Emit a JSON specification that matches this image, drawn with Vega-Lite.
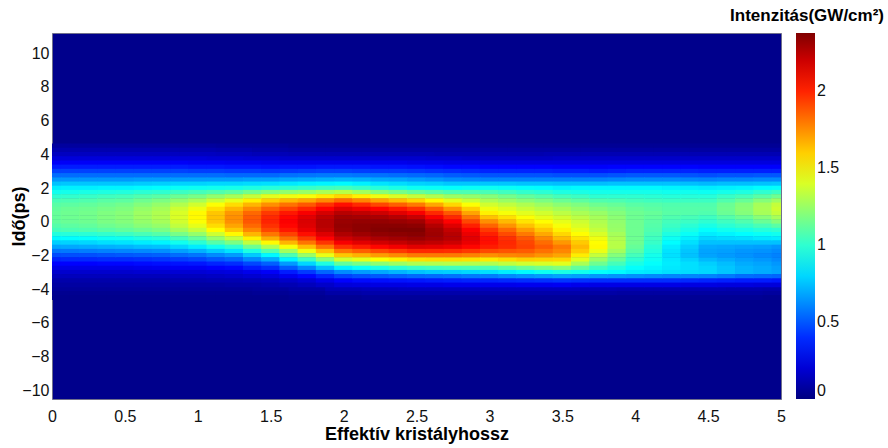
{
  "$schema": "https://vega.github.io/schema/vega-lite/v6.json",
  "width": 729,
  "height": 366,
  "autosize": {"type": "none"},
  "padding": {"left": 52, "top": 33, "right": 107, "bottom": 49},
  "background": "white",
  "config": {
    "font": "Liberation Sans",
    "view": {"fill": "#00008c", "stroke": "#70708c", "strokeWidth": 1}
  },
  "title": {
    "text": "Intenzitás(GW/cm²)",
    "anchor": "end",
    "frame": "group",
    "dx": 103,
    "dy": 17,
    "offset": 12,
    "baseline": "alphabetic",
    "fontSize": 17,
    "fontWeight": "bold",
    "color": "#000000"
  },
  "datasets": {
    "tails": [
      {"x":0,"t":4.5,"I":0.07},{"x":0,"t":4.25,"I":0.11},{"x":0,"t":4,"I":0.15},{"x":0,"t":-4,"I":0.06},{"x":0,"t":-4.25,"I":0.04},{"x":0,"t":-4.5,"I":0.03},
      {"x":0.25,"t":4.5,"I":0.07},{"x":0.25,"t":4.25,"I":0.11},{"x":0.25,"t":4,"I":0.15},{"x":0.25,"t":-4,"I":0.06},{"x":0.25,"t":-4.25,"I":0.04},{"x":0.25,"t":-4.5,"I":0.03},
      {"x":0.5,"t":4.5,"I":0.07},{"x":0.5,"t":4.25,"I":0.11},{"x":0.5,"t":4,"I":0.15},{"x":0.5,"t":-4,"I":0.06},{"x":0.5,"t":-4.25,"I":0.04},{"x":0.5,"t":-4.5,"I":0.03},
      {"x":0.75,"t":4.5,"I":0.07},{"x":0.75,"t":4.25,"I":0.11},{"x":0.75,"t":4,"I":0.15},{"x":0.75,"t":-4,"I":0.06},{"x":0.75,"t":-4.25,"I":0.04},{"x":0.75,"t":-4.5,"I":0.03},
      {"x":1,"t":4.5,"I":0.07},{"x":1,"t":4.25,"I":0.11},{"x":1,"t":4,"I":0.15},{"x":1,"t":-4,"I":0.06},{"x":1,"t":-4.25,"I":0.04},{"x":1,"t":-4.5,"I":0.03},
      {"x":1.25,"t":4.5,"I":0.06},{"x":1.25,"t":4.25,"I":0.1},{"x":1.25,"t":4,"I":0.14},{"x":1.25,"t":-4,"I":0.06},{"x":1.25,"t":-4.25,"I":0.04},{"x":1.25,"t":-4.5,"I":0.03},
      {"x":1.5,"t":4.5,"I":0.06},{"x":1.5,"t":4.25,"I":0.09},{"x":1.5,"t":4,"I":0.13},{"x":1.5,"t":-4,"I":0.07},{"x":1.5,"t":-4.25,"I":0.05},{"x":1.5,"t":-4.5,"I":0.03},
      {"x":1.75,"t":4.5,"I":0.05},{"x":1.75,"t":4.25,"I":0.08},{"x":1.75,"t":4,"I":0.12},{"x":1.75,"t":-4,"I":0.09},{"x":1.75,"t":-4.25,"I":0.06},{"x":1.75,"t":-4.5,"I":0.04},
      {"x":2,"t":4.5,"I":0.05},{"x":2,"t":4.25,"I":0.08},{"x":2,"t":4,"I":0.12},{"x":2,"t":-4,"I":0.13},{"x":2,"t":-4.25,"I":0.09},{"x":2,"t":-4.5,"I":0.05},
      {"x":2.25,"t":4.5,"I":0.05},{"x":2.25,"t":4.25,"I":0.08},{"x":2.25,"t":4,"I":0.12},{"x":2.25,"t":-4,"I":0.14},{"x":2.25,"t":-4.25,"I":0.1},{"x":2.25,"t":-4.5,"I":0.06},
      {"x":2.5,"t":4.5,"I":0.05},{"x":2.5,"t":4.25,"I":0.08},{"x":2.5,"t":4,"I":0.12},{"x":2.5,"t":-4,"I":0.15},{"x":2.5,"t":-4.25,"I":0.1},{"x":2.5,"t":-4.5,"I":0.06},
      {"x":2.75,"t":4.5,"I":0.05},{"x":2.75,"t":4.25,"I":0.08},{"x":2.75,"t":4,"I":0.11},{"x":2.75,"t":-4,"I":0.15},{"x":2.75,"t":-4.25,"I":0.1},{"x":2.75,"t":-4.5,"I":0.06},
      {"x":3,"t":4.5,"I":0.05},{"x":3,"t":4.25,"I":0.08},{"x":3,"t":4,"I":0.11},{"x":3,"t":-4,"I":0.15},{"x":3,"t":-4.25,"I":0.1},{"x":3,"t":-4.5,"I":0.06},
      {"x":3.25,"t":4.5,"I":0.05},{"x":3.25,"t":4.25,"I":0.08},{"x":3.25,"t":4,"I":0.11},{"x":3.25,"t":-4,"I":0.15},{"x":3.25,"t":-4.25,"I":0.1},{"x":3.25,"t":-4.5,"I":0.06},
      {"x":3.5,"t":4.5,"I":0.05},{"x":3.5,"t":4.25,"I":0.08},{"x":3.5,"t":4,"I":0.12},{"x":3.5,"t":-4,"I":0.15},{"x":3.5,"t":-4.25,"I":0.1},{"x":3.5,"t":-4.5,"I":0.06},
      {"x":3.75,"t":4.5,"I":0.05},{"x":3.75,"t":4.25,"I":0.08},{"x":3.75,"t":4,"I":0.12},{"x":3.75,"t":-4,"I":0.13},{"x":3.75,"t":-4.25,"I":0.09},{"x":3.75,"t":-4.5,"I":0.05},
      {"x":4,"t":4.5,"I":0.05},{"x":4,"t":4.25,"I":0.08},{"x":4,"t":4,"I":0.12},{"x":4,"t":-4,"I":0.12},{"x":4,"t":-4.25,"I":0.08},{"x":4,"t":-4.5,"I":0.05},
      {"x":4.25,"t":4.5,"I":0.05},{"x":4.25,"t":4.25,"I":0.08},{"x":4.25,"t":4,"I":0.12},{"x":4.25,"t":-4,"I":0.12},{"x":4.25,"t":-4.25,"I":0.08},{"x":4.25,"t":-4.5,"I":0.05},
      {"x":4.5,"t":4.5,"I":0.05},{"x":4.5,"t":4.25,"I":0.08},{"x":4.5,"t":4,"I":0.12},{"x":4.5,"t":-4,"I":0.12},{"x":4.5,"t":-4.25,"I":0.08},{"x":4.5,"t":-4.5,"I":0.05},
      {"x":4.75,"t":4.5,"I":0.05},{"x":4.75,"t":4.25,"I":0.08},{"x":4.75,"t":4,"I":0.12},{"x":4.75,"t":-4,"I":0.11},{"x":4.75,"t":-4.25,"I":0.08},{"x":4.75,"t":-4.5,"I":0.05},
      {"x":5,"t":4.5,"I":0.05},{"x":5,"t":4.25,"I":0.08},{"x":5,"t":4,"I":0.12},{"x":5,"t":-4,"I":0.1},{"x":5,"t":-4.25,"I":0.07},{"x":5,"t":-4.5,"I":0.04}
    ],
    "band": [
      {"x":0,"t":3.75,"I":0.21},{"x":0,"t":3.5,"I":0.28},{"x":0,"t":3.25,"I":0.36},{"x":0,"t":3,"I":0.45},{"x":0,"t":2.75,"I":0.55},{"x":0,"t":2.5,"I":0.65},{"x":0,"t":2.25,"I":0.75},{"x":0,"t":2,"I":0.85},{"x":0,"t":1.75,"I":0.93},{"x":0,"t":1.5,"I":1.0},{"x":0,"t":1.25,"I":1.06},{"x":0,"t":1,"I":1.1},{"x":0,"t":0.75,"I":1.12},{"x":0,"t":0.5,"I":1.13},{"x":0,"t":0.25,"I":1.13},{"x":0,"t":0,"I":1.12},{"x":0,"t":-0.25,"I":1.09},{"x":0,"t":-0.5,"I":1.05},{"x":0,"t":-0.75,"I":0.97},{"x":0,"t":-1,"I":0.88},{"x":0,"t":-1.25,"I":0.78},{"x":0,"t":-1.5,"I":0.68},{"x":0,"t":-1.75,"I":0.57},{"x":0,"t":-2,"I":0.47},{"x":0,"t":-2.25,"I":0.38},{"x":0,"t":-2.5,"I":0.3},{"x":0,"t":-2.75,"I":0.24},{"x":0,"t":-3,"I":0.18},{"x":0,"t":-3.25,"I":0.14},{"x":0,"t":-3.5,"I":0.1},{"x":0,"t":-3.75,"I":0.08},
      {"x":0.125,"t":3.75,"I":0.21},{"x":0.125,"t":3.5,"I":0.28},{"x":0.125,"t":3.25,"I":0.36},{"x":0.125,"t":3,"I":0.45},{"x":0.125,"t":2.75,"I":0.55},{"x":0.125,"t":2.5,"I":0.65},{"x":0.125,"t":2.25,"I":0.76},{"x":0.125,"t":2,"I":0.86},{"x":0.125,"t":1.75,"I":0.94},{"x":0.125,"t":1.5,"I":1.01},{"x":0.125,"t":1.25,"I":1.07},{"x":0.125,"t":1,"I":1.11},{"x":0.125,"t":0.75,"I":1.14},{"x":0.125,"t":0.5,"I":1.15},{"x":0.125,"t":0.25,"I":1.15},{"x":0.125,"t":0,"I":1.14},{"x":0.125,"t":-0.25,"I":1.11},{"x":0.125,"t":-0.5,"I":1.07},{"x":0.125,"t":-0.75,"I":0.98},{"x":0.125,"t":-1,"I":0.89},{"x":0.125,"t":-1.25,"I":0.79},{"x":0.125,"t":-1.5,"I":0.69},{"x":0.125,"t":-1.75,"I":0.58},{"x":0.125,"t":-2,"I":0.48},{"x":0.125,"t":-2.25,"I":0.39},{"x":0.125,"t":-2.5,"I":0.3},{"x":0.125,"t":-2.75,"I":0.24},{"x":0.125,"t":-3,"I":0.18},{"x":0.125,"t":-3.25,"I":0.14},{"x":0.125,"t":-3.5,"I":0.1},{"x":0.125,"t":-3.75,"I":0.08},
      {"x":0.25,"t":3.75,"I":0.21},{"x":0.25,"t":3.5,"I":0.28},{"x":0.25,"t":3.25,"I":0.36},{"x":0.25,"t":3,"I":0.45},{"x":0.25,"t":2.75,"I":0.55},{"x":0.25,"t":2.5,"I":0.65},{"x":0.25,"t":2.25,"I":0.76},{"x":0.25,"t":2,"I":0.86},{"x":0.25,"t":1.75,"I":0.95},{"x":0.25,"t":1.5,"I":1.02},{"x":0.25,"t":1.25,"I":1.08},{"x":0.25,"t":1,"I":1.12},{"x":0.25,"t":0.75,"I":1.15},{"x":0.25,"t":0.5,"I":1.16},{"x":0.25,"t":0.25,"I":1.16},{"x":0.25,"t":0,"I":1.15},{"x":0.25,"t":-0.25,"I":1.12},{"x":0.25,"t":-0.5,"I":1.08},{"x":0.25,"t":-0.75,"I":0.99},{"x":0.25,"t":-1,"I":0.9},{"x":0.25,"t":-1.25,"I":0.8},{"x":0.25,"t":-1.5,"I":0.7},{"x":0.25,"t":-1.75,"I":0.59},{"x":0.25,"t":-2,"I":0.48},{"x":0.25,"t":-2.25,"I":0.39},{"x":0.25,"t":-2.5,"I":0.3},{"x":0.25,"t":-2.75,"I":0.24},{"x":0.25,"t":-3,"I":0.18},{"x":0.25,"t":-3.25,"I":0.14},{"x":0.25,"t":-3.5,"I":0.1},{"x":0.25,"t":-3.75,"I":0.08},
      {"x":0.375,"t":3.75,"I":0.21},{"x":0.375,"t":3.5,"I":0.28},{"x":0.375,"t":3.25,"I":0.36},{"x":0.375,"t":3,"I":0.45},{"x":0.375,"t":2.75,"I":0.55},{"x":0.375,"t":2.5,"I":0.65},{"x":0.375,"t":2.25,"I":0.76},{"x":0.375,"t":2,"I":0.87},{"x":0.375,"t":1.75,"I":0.96},{"x":0.375,"t":1.5,"I":1.04},{"x":0.375,"t":1.25,"I":1.1},{"x":0.375,"t":1,"I":1.14},{"x":0.375,"t":0.75,"I":1.17},{"x":0.375,"t":0.5,"I":1.19},{"x":0.375,"t":0.25,"I":1.19},{"x":0.375,"t":0,"I":1.18},{"x":0.375,"t":-0.25,"I":1.15},{"x":0.375,"t":-0.5,"I":1.1},{"x":0.375,"t":-0.75,"I":1.01},{"x":0.375,"t":-1,"I":0.92},{"x":0.375,"t":-1.25,"I":0.82},{"x":0.375,"t":-1.5,"I":0.71},{"x":0.375,"t":-1.75,"I":0.6},{"x":0.375,"t":-2,"I":0.49},{"x":0.375,"t":-2.25,"I":0.4},{"x":0.375,"t":-2.5,"I":0.31},{"x":0.375,"t":-2.75,"I":0.24},{"x":0.375,"t":-3,"I":0.18},{"x":0.375,"t":-3.25,"I":0.14},{"x":0.375,"t":-3.5,"I":0.1},{"x":0.375,"t":-3.75,"I":0.08},
      {"x":0.5,"t":3.75,"I":0.21},{"x":0.5,"t":3.5,"I":0.28},{"x":0.5,"t":3.25,"I":0.36},{"x":0.5,"t":3,"I":0.45},{"x":0.5,"t":2.75,"I":0.55},{"x":0.5,"t":2.5,"I":0.65},{"x":0.5,"t":2.25,"I":0.76},{"x":0.5,"t":2,"I":0.87},{"x":0.5,"t":1.75,"I":0.97},{"x":0.5,"t":1.5,"I":1.05},{"x":0.5,"t":1.25,"I":1.11},{"x":0.5,"t":1,"I":1.16},{"x":0.5,"t":0.75,"I":1.19},{"x":0.5,"t":0.5,"I":1.21},{"x":0.5,"t":0.25,"I":1.21},{"x":0.5,"t":0,"I":1.2},{"x":0.5,"t":-0.25,"I":1.17},{"x":0.5,"t":-0.5,"I":1.12},{"x":0.5,"t":-0.75,"I":1.03},{"x":0.5,"t":-1,"I":0.93},{"x":0.5,"t":-1.25,"I":0.83},{"x":0.5,"t":-1.5,"I":0.72},{"x":0.5,"t":-1.75,"I":0.61},{"x":0.5,"t":-2,"I":0.5},{"x":0.5,"t":-2.25,"I":0.4},{"x":0.5,"t":-2.5,"I":0.31},{"x":0.5,"t":-2.75,"I":0.24},{"x":0.5,"t":-3,"I":0.18},{"x":0.5,"t":-3.25,"I":0.14},{"x":0.5,"t":-3.5,"I":0.1},{"x":0.5,"t":-3.75,"I":0.08},
      {"x":0.625,"t":3.75,"I":0.21},{"x":0.625,"t":3.5,"I":0.28},{"x":0.625,"t":3.25,"I":0.36},{"x":0.625,"t":3,"I":0.45},{"x":0.625,"t":2.75,"I":0.55},{"x":0.625,"t":2.5,"I":0.66},{"x":0.625,"t":2.25,"I":0.77},{"x":0.625,"t":2,"I":0.88},{"x":0.625,"t":1.75,"I":0.99},{"x":0.625,"t":1.5,"I":1.08},{"x":0.625,"t":1.25,"I":1.15},{"x":0.625,"t":1,"I":1.2},{"x":0.625,"t":0.75,"I":1.24},{"x":0.625,"t":0.5,"I":1.26},{"x":0.625,"t":0.25,"I":1.26},{"x":0.625,"t":0,"I":1.24},{"x":0.625,"t":-0.25,"I":1.21},{"x":0.625,"t":-0.5,"I":1.15},{"x":0.625,"t":-0.75,"I":1.06},{"x":0.625,"t":-1,"I":0.96},{"x":0.625,"t":-1.25,"I":0.85},{"x":0.625,"t":-1.5,"I":0.74},{"x":0.625,"t":-1.75,"I":0.62},{"x":0.625,"t":-2,"I":0.51},{"x":0.625,"t":-2.25,"I":0.41},{"x":0.625,"t":-2.5,"I":0.32},{"x":0.625,"t":-2.75,"I":0.25},{"x":0.625,"t":-3,"I":0.19},{"x":0.625,"t":-3.25,"I":0.14},{"x":0.625,"t":-3.5,"I":0.1},{"x":0.625,"t":-3.75,"I":0.08},
      {"x":0.75,"t":3.75,"I":0.21},{"x":0.75,"t":3.5,"I":0.28},{"x":0.75,"t":3.25,"I":0.36},{"x":0.75,"t":3,"I":0.45},{"x":0.75,"t":2.75,"I":0.55},{"x":0.75,"t":2.5,"I":0.66},{"x":0.75,"t":2.25,"I":0.78},{"x":0.75,"t":2,"I":0.89},{"x":0.75,"t":1.75,"I":1.0},{"x":0.75,"t":1.5,"I":1.1},{"x":0.75,"t":1.25,"I":1.18},{"x":0.75,"t":1,"I":1.24},{"x":0.75,"t":0.75,"I":1.28},{"x":0.75,"t":0.5,"I":1.3},{"x":0.75,"t":0.25,"I":1.3},{"x":0.75,"t":0,"I":1.28},{"x":0.75,"t":-0.25,"I":1.24},{"x":0.75,"t":-0.5,"I":1.18},{"x":0.75,"t":-0.75,"I":1.09},{"x":0.75,"t":-1,"I":0.98},{"x":0.75,"t":-1.25,"I":0.87},{"x":0.75,"t":-1.5,"I":0.75},{"x":0.75,"t":-1.75,"I":0.63},{"x":0.75,"t":-2,"I":0.52},{"x":0.75,"t":-2.25,"I":0.42},{"x":0.75,"t":-2.5,"I":0.33},{"x":0.75,"t":-2.75,"I":0.26},{"x":0.75,"t":-3,"I":0.19},{"x":0.75,"t":-3.25,"I":0.14},{"x":0.75,"t":-3.5,"I":0.1},{"x":0.75,"t":-3.75,"I":0.08},
      {"x":0.875,"t":3.75,"I":0.21},{"x":0.875,"t":3.5,"I":0.28},{"x":0.875,"t":3.25,"I":0.36},{"x":0.875,"t":3,"I":0.45},{"x":0.875,"t":2.75,"I":0.55},{"x":0.875,"t":2.5,"I":0.66},{"x":0.875,"t":2.25,"I":0.79},{"x":0.875,"t":2,"I":0.91},{"x":0.875,"t":1.75,"I":1.03},{"x":0.875,"t":1.5,"I":1.14},{"x":0.875,"t":1.25,"I":1.23},{"x":0.875,"t":1,"I":1.31},{"x":0.875,"t":0.75,"I":1.37},{"x":0.875,"t":0.5,"I":1.4},{"x":0.875,"t":0.25,"I":1.4},{"x":0.875,"t":0,"I":1.38},{"x":0.875,"t":-0.25,"I":1.34},{"x":0.875,"t":-0.5,"I":1.27},{"x":0.875,"t":-0.75,"I":1.17},{"x":0.875,"t":-1,"I":1.05},{"x":0.875,"t":-1.25,"I":0.93},{"x":0.875,"t":-1.5,"I":0.8},{"x":0.875,"t":-1.75,"I":0.67},{"x":0.875,"t":-2,"I":0.55},{"x":0.875,"t":-2.25,"I":0.44},{"x":0.875,"t":-2.5,"I":0.34},{"x":0.875,"t":-2.75,"I":0.27},{"x":0.875,"t":-3,"I":0.2},{"x":0.875,"t":-3.25,"I":0.15},{"x":0.875,"t":-3.5,"I":0.11},{"x":0.875,"t":-3.75,"I":0.08},
      {"x":1,"t":3.75,"I":0.21},{"x":1,"t":3.5,"I":0.27},{"x":1,"t":3.25,"I":0.35},{"x":1,"t":3,"I":0.44},{"x":1,"t":2.75,"I":0.55},{"x":1,"t":2.5,"I":0.66},{"x":1,"t":2.25,"I":0.79},{"x":1,"t":2,"I":0.92},{"x":1,"t":1.75,"I":1.05},{"x":1,"t":1.5,"I":1.17},{"x":1,"t":1.25,"I":1.28},{"x":1,"t":1,"I":1.38},{"x":1,"t":0.75,"I":1.45},{"x":1,"t":0.5,"I":1.5},{"x":1,"t":0.25,"I":1.5},{"x":1,"t":0,"I":1.48},{"x":1,"t":-0.25,"I":1.43},{"x":1,"t":-0.5,"I":1.35},{"x":1,"t":-0.75,"I":1.24},{"x":1,"t":-1,"I":1.12},{"x":1,"t":-1.25,"I":0.99},{"x":1,"t":-1.5,"I":0.85},{"x":1,"t":-1.75,"I":0.71},{"x":1,"t":-2,"I":0.57},{"x":1,"t":-2.25,"I":0.46},{"x":1,"t":-2.5,"I":0.35},{"x":1,"t":-2.75,"I":0.27},{"x":1,"t":-3,"I":0.2},{"x":1,"t":-3.25,"I":0.15},{"x":1,"t":-3.5,"I":0.11},{"x":1,"t":-3.75,"I":0.08},
      {"x":1.125,"t":3.75,"I":0.2},{"x":1.125,"t":3.5,"I":0.27},{"x":1.125,"t":3.25,"I":0.35},{"x":1.125,"t":3,"I":0.44},{"x":1.125,"t":2.75,"I":0.55},{"x":1.125,"t":2.5,"I":0.66},{"x":1.125,"t":2.25,"I":0.8},{"x":1.125,"t":2,"I":0.93},{"x":1.125,"t":1.75,"I":1.08},{"x":1.125,"t":1.5,"I":1.23},{"x":1.125,"t":1.25,"I":1.36},{"x":1.125,"t":1,"I":1.48},{"x":1.125,"t":0.75,"I":1.56},{"x":1.125,"t":0.5,"I":1.62},{"x":1.125,"t":0.25,"I":1.63},{"x":1.125,"t":0,"I":1.62},{"x":1.125,"t":-0.25,"I":1.57},{"x":1.125,"t":-0.5,"I":1.49},{"x":1.125,"t":-0.75,"I":1.37},{"x":1.125,"t":-1,"I":1.24},{"x":1.125,"t":-1.25,"I":1.09},{"x":1.125,"t":-1.5,"I":0.93},{"x":1.125,"t":-1.75,"I":0.77},{"x":1.125,"t":-2,"I":0.62},{"x":1.125,"t":-2.25,"I":0.5},{"x":1.125,"t":-2.5,"I":0.38},{"x":1.125,"t":-2.75,"I":0.29},{"x":1.125,"t":-3,"I":0.21},{"x":1.125,"t":-3.25,"I":0.16},{"x":1.125,"t":-3.5,"I":0.12},{"x":1.125,"t":-3.75,"I":0.08},
      {"x":1.25,"t":3.75,"I":0.2},{"x":1.25,"t":3.5,"I":0.26},{"x":1.25,"t":3.25,"I":0.34},{"x":1.25,"t":3,"I":0.43},{"x":1.25,"t":2.75,"I":0.54},{"x":1.25,"t":2.5,"I":0.66},{"x":1.25,"t":2.25,"I":0.8},{"x":1.25,"t":2,"I":0.94},{"x":1.25,"t":1.75,"I":1.11},{"x":1.25,"t":1.5,"I":1.28},{"x":1.25,"t":1.25,"I":1.43},{"x":1.25,"t":1,"I":1.57},{"x":1.25,"t":0.75,"I":1.66},{"x":1.25,"t":0.5,"I":1.73},{"x":1.25,"t":0.25,"I":1.75},{"x":1.25,"t":0,"I":1.75},{"x":1.25,"t":-0.25,"I":1.7},{"x":1.25,"t":-0.5,"I":1.62},{"x":1.25,"t":-0.75,"I":1.5},{"x":1.25,"t":-1,"I":1.35},{"x":1.25,"t":-1.25,"I":1.18},{"x":1.25,"t":-1.5,"I":1.0},{"x":1.25,"t":-1.75,"I":0.83},{"x":1.25,"t":-2,"I":0.66},{"x":1.25,"t":-2.25,"I":0.53},{"x":1.25,"t":-2.5,"I":0.4},{"x":1.25,"t":-2.75,"I":0.31},{"x":1.25,"t":-3,"I":0.22},{"x":1.25,"t":-3.25,"I":0.17},{"x":1.25,"t":-3.5,"I":0.12},{"x":1.25,"t":-3.75,"I":0.09},
      {"x":1.375,"t":3.75,"I":0.19},{"x":1.375,"t":3.5,"I":0.26},{"x":1.375,"t":3.25,"I":0.34},{"x":1.375,"t":3,"I":0.43},{"x":1.375,"t":2.75,"I":0.54},{"x":1.375,"t":2.5,"I":0.67},{"x":1.375,"t":2.25,"I":0.81},{"x":1.375,"t":2,"I":0.96},{"x":1.375,"t":1.75,"I":1.16},{"x":1.375,"t":1.5,"I":1.35},{"x":1.375,"t":1.25,"I":1.52},{"x":1.375,"t":1,"I":1.66},{"x":1.375,"t":0.75,"I":1.76},{"x":1.375,"t":0.5,"I":1.84},{"x":1.375,"t":0.25,"I":1.87},{"x":1.375,"t":0,"I":1.88},{"x":1.375,"t":-0.25,"I":1.84},{"x":1.375,"t":-0.5,"I":1.77},{"x":1.375,"t":-0.75,"I":1.66},{"x":1.375,"t":-1,"I":1.52},{"x":1.375,"t":-1.25,"I":1.34},{"x":1.375,"t":-1.5,"I":1.15},{"x":1.375,"t":-1.75,"I":0.96},{"x":1.375,"t":-2,"I":0.77},{"x":1.375,"t":-2.25,"I":0.62},{"x":1.375,"t":-2.5,"I":0.46},{"x":1.375,"t":-2.75,"I":0.36},{"x":1.375,"t":-3,"I":0.25},{"x":1.375,"t":-3.25,"I":0.19},{"x":1.375,"t":-3.5,"I":0.13},{"x":1.375,"t":-3.75,"I":0.09},
      {"x":1.5,"t":3.75,"I":0.19},{"x":1.5,"t":3.5,"I":0.25},{"x":1.5,"t":3.25,"I":0.33},{"x":1.5,"t":3,"I":0.42},{"x":1.5,"t":2.75,"I":0.54},{"x":1.5,"t":2.5,"I":0.67},{"x":1.5,"t":2.25,"I":0.82},{"x":1.5,"t":2,"I":0.98},{"x":1.5,"t":1.75,"I":1.2},{"x":1.5,"t":1.5,"I":1.42},{"x":1.5,"t":1.25,"I":1.6},{"x":1.5,"t":1,"I":1.75},{"x":1.5,"t":0.75,"I":1.86},{"x":1.5,"t":0.5,"I":1.95},{"x":1.5,"t":0.25,"I":1.99},{"x":1.5,"t":0,"I":2.0},{"x":1.5,"t":-0.25,"I":1.97},{"x":1.5,"t":-0.5,"I":1.92},{"x":1.5,"t":-0.75,"I":1.81},{"x":1.5,"t":-1,"I":1.68},{"x":1.5,"t":-1.25,"I":1.5},{"x":1.5,"t":-1.5,"I":1.3},{"x":1.5,"t":-1.75,"I":1.09},{"x":1.5,"t":-2,"I":0.88},{"x":1.5,"t":-2.25,"I":0.7},{"x":1.5,"t":-2.5,"I":0.52},{"x":1.5,"t":-2.75,"I":0.4},{"x":1.5,"t":-3,"I":0.28},{"x":1.5,"t":-3.25,"I":0.21},{"x":1.5,"t":-3.5,"I":0.14},{"x":1.5,"t":-3.75,"I":0.1},
      {"x":1.625,"t":3.75,"I":0.18},{"x":1.625,"t":3.5,"I":0.25},{"x":1.625,"t":3.25,"I":0.34},{"x":1.625,"t":3,"I":0.43},{"x":1.625,"t":2.75,"I":0.56},{"x":1.625,"t":2.5,"I":0.69},{"x":1.625,"t":2.25,"I":0.84},{"x":1.625,"t":2,"I":1.0},{"x":1.625,"t":1.75,"I":1.23},{"x":1.625,"t":1.5,"I":1.45},{"x":1.625,"t":1.25,"I":1.65},{"x":1.625,"t":1,"I":1.82},{"x":1.625,"t":0.75,"I":1.93},{"x":1.625,"t":0.5,"I":2.03},{"x":1.625,"t":0.25,"I":2.07},{"x":1.625,"t":0,"I":2.09},{"x":1.625,"t":-0.25,"I":2.07},{"x":1.625,"t":-0.5,"I":2.03},{"x":1.625,"t":-0.75,"I":1.93},{"x":1.625,"t":-1,"I":1.82},{"x":1.625,"t":-1.25,"I":1.66},{"x":1.625,"t":-1.5,"I":1.47},{"x":1.625,"t":-1.75,"I":1.27},{"x":1.625,"t":-2,"I":1.07},{"x":1.625,"t":-2.25,"I":0.87},{"x":1.625,"t":-2.5,"I":0.66},{"x":1.625,"t":-2.75,"I":0.51},{"x":1.625,"t":-3,"I":0.36},{"x":1.625,"t":-3.25,"I":0.26},{"x":1.625,"t":-3.5,"I":0.17},{"x":1.625,"t":-3.75,"I":0.12},
      {"x":1.75,"t":3.75,"I":0.18},{"x":1.75,"t":3.5,"I":0.25},{"x":1.75,"t":3.25,"I":0.34},{"x":1.75,"t":3,"I":0.44},{"x":1.75,"t":2.75,"I":0.57},{"x":1.75,"t":2.5,"I":0.7},{"x":1.75,"t":2.25,"I":0.86},{"x":1.75,"t":2,"I":1.02},{"x":1.75,"t":1.75,"I":1.25},{"x":1.75,"t":1.5,"I":1.47},{"x":1.75,"t":1.25,"I":1.69},{"x":1.75,"t":1,"I":1.88},{"x":1.75,"t":0.75,"I":2.0},{"x":1.75,"t":0.5,"I":2.1},{"x":1.75,"t":0.25,"I":2.15},{"x":1.75,"t":0,"I":2.17},{"x":1.75,"t":-0.25,"I":2.16},{"x":1.75,"t":-0.5,"I":2.13},{"x":1.75,"t":-0.75,"I":2.05},{"x":1.75,"t":-1,"I":1.95},{"x":1.75,"t":-1.25,"I":1.81},{"x":1.75,"t":-1.5,"I":1.64},{"x":1.75,"t":-1.75,"I":1.45},{"x":1.75,"t":-2,"I":1.25},{"x":1.75,"t":-2.25,"I":1.03},{"x":1.75,"t":-2.5,"I":0.8},{"x":1.75,"t":-2.75,"I":0.61},{"x":1.75,"t":-3,"I":0.43},{"x":1.75,"t":-3.25,"I":0.31},{"x":1.75,"t":-3.5,"I":0.2},{"x":1.75,"t":-3.75,"I":0.14},
      {"x":1.875,"t":3.75,"I":0.18},{"x":1.875,"t":3.5,"I":0.25},{"x":1.875,"t":3.25,"I":0.35},{"x":1.875,"t":3,"I":0.45},{"x":1.875,"t":2.75,"I":0.58},{"x":1.875,"t":2.5,"I":0.71},{"x":1.875,"t":2.25,"I":0.87},{"x":1.875,"t":2,"I":1.04},{"x":1.875,"t":1.75,"I":1.29},{"x":1.875,"t":1.5,"I":1.53},{"x":1.875,"t":1.25,"I":1.76},{"x":1.875,"t":1,"I":1.97},{"x":1.875,"t":0.75,"I":2.08},{"x":1.875,"t":0.5,"I":2.18},{"x":1.875,"t":0.25,"I":2.23},{"x":1.875,"t":0,"I":2.25},{"x":1.875,"t":-0.25,"I":2.25},{"x":1.875,"t":-0.5,"I":2.23},{"x":1.875,"t":-0.75,"I":2.16},{"x":1.875,"t":-1,"I":2.08},{"x":1.875,"t":-1.25,"I":1.96},{"x":1.875,"t":-1.5,"I":1.81},{"x":1.875,"t":-1.75,"I":1.63},{"x":1.875,"t":-2,"I":1.44},{"x":1.875,"t":-2.25,"I":1.21},{"x":1.875,"t":-2.5,"I":0.96},{"x":1.875,"t":-2.75,"I":0.74},{"x":1.875,"t":-3,"I":0.53},{"x":1.875,"t":-3.25,"I":0.38},{"x":1.875,"t":-3.5,"I":0.25},{"x":1.875,"t":-3.75,"I":0.17},
      {"x":2,"t":3.75,"I":0.18},{"x":2,"t":3.5,"I":0.25},{"x":2,"t":3.25,"I":0.35},{"x":2,"t":3,"I":0.45},{"x":2,"t":2.75,"I":0.58},{"x":2,"t":2.5,"I":0.72},{"x":2,"t":2.25,"I":0.88},{"x":2,"t":2,"I":1.05},{"x":2,"t":1.75,"I":1.32},{"x":2,"t":1.5,"I":1.58},{"x":2,"t":1.25,"I":1.83},{"x":2,"t":1,"I":2.05},{"x":2,"t":0.75,"I":2.16},{"x":2,"t":0.5,"I":2.25},{"x":2,"t":0.25,"I":2.3},{"x":2,"t":0,"I":2.32},{"x":2,"t":-0.25,"I":2.33},{"x":2,"t":-0.5,"I":2.32},{"x":2,"t":-0.75,"I":2.27},{"x":2,"t":-1,"I":2.2},{"x":2,"t":-1.25,"I":2.1},{"x":2,"t":-1.5,"I":1.97},{"x":2,"t":-1.75,"I":1.81},{"x":2,"t":-2,"I":1.62},{"x":2,"t":-2.25,"I":1.38},{"x":2,"t":-2.5,"I":1.12},{"x":2,"t":-2.75,"I":0.86},{"x":2,"t":-3,"I":0.62},{"x":2,"t":-3.25,"I":0.45},{"x":2,"t":-3.5,"I":0.3},{"x":2,"t":-3.75,"I":0.21},
      {"x":2.125,"t":3.75,"I":0.18},{"x":2.125,"t":3.5,"I":0.25},{"x":2.125,"t":3.25,"I":0.35},{"x":2.125,"t":3,"I":0.44},{"x":2.125,"t":2.75,"I":0.57},{"x":2.125,"t":2.5,"I":0.71},{"x":2.125,"t":2.25,"I":0.86},{"x":2.125,"t":2,"I":1.02},{"x":2.125,"t":1.75,"I":1.27},{"x":2.125,"t":1.5,"I":1.52},{"x":2.125,"t":1.25,"I":1.77},{"x":2.125,"t":1,"I":1.99},{"x":2.125,"t":0.75,"I":2.12},{"x":2.125,"t":0.5,"I":2.23},{"x":2.125,"t":0.25,"I":2.29},{"x":2.125,"t":0,"I":2.33},{"x":2.125,"t":-0.25,"I":2.35},{"x":2.125,"t":-0.5,"I":2.35},{"x":2.125,"t":-0.75,"I":2.31},{"x":2.125,"t":-1,"I":2.24},{"x":2.125,"t":-1.25,"I":2.15},{"x":2.125,"t":-1.5,"I":2.02},{"x":2.125,"t":-1.75,"I":1.86},{"x":2.125,"t":-2,"I":1.67},{"x":2.125,"t":-2.25,"I":1.43},{"x":2.125,"t":-2.5,"I":1.17},{"x":2.125,"t":-2.75,"I":0.91},{"x":2.125,"t":-3,"I":0.66},{"x":2.125,"t":-3.25,"I":0.48},{"x":2.125,"t":-3.5,"I":0.32},{"x":2.125,"t":-3.75,"I":0.22},
      {"x":2.25,"t":3.75,"I":0.18},{"x":2.25,"t":3.5,"I":0.25},{"x":2.25,"t":3.25,"I":0.34},{"x":2.25,"t":3,"I":0.43},{"x":2.25,"t":2.75,"I":0.56},{"x":2.25,"t":2.5,"I":0.69},{"x":2.25,"t":2.25,"I":0.83},{"x":2.25,"t":2,"I":0.98},{"x":2.25,"t":1.75,"I":1.21},{"x":2.25,"t":1.5,"I":1.45},{"x":2.25,"t":1.25,"I":1.7},{"x":2.25,"t":1,"I":1.92},{"x":2.25,"t":0.75,"I":2.08},{"x":2.25,"t":0.5,"I":2.2},{"x":2.25,"t":0.25,"I":2.28},{"x":2.25,"t":0,"I":2.33},{"x":2.25,"t":-0.25,"I":2.36},{"x":2.25,"t":-0.5,"I":2.37},{"x":2.25,"t":-0.75,"I":2.34},{"x":2.25,"t":-1,"I":2.28},{"x":2.25,"t":-1.25,"I":2.19},{"x":2.25,"t":-1.5,"I":2.07},{"x":2.25,"t":-1.75,"I":1.91},{"x":2.25,"t":-2,"I":1.72},{"x":2.25,"t":-2.25,"I":1.48},{"x":2.25,"t":-2.5,"I":1.22},{"x":2.25,"t":-2.75,"I":0.95},{"x":2.25,"t":-3,"I":0.69},{"x":2.25,"t":-3.25,"I":0.5},{"x":2.25,"t":-3.5,"I":0.33},{"x":2.25,"t":-3.75,"I":0.23},
      {"x":2.375,"t":3.75,"I":0.18},{"x":2.375,"t":3.5,"I":0.25},{"x":2.375,"t":3.25,"I":0.34},{"x":2.375,"t":3,"I":0.43},{"x":2.375,"t":2.75,"I":0.55},{"x":2.375,"t":2.5,"I":0.68},{"x":2.375,"t":2.25,"I":0.81},{"x":2.375,"t":2,"I":0.95},{"x":2.375,"t":1.75,"I":1.17},{"x":2.375,"t":1.5,"I":1.4},{"x":2.375,"t":1.25,"I":1.64},{"x":2.375,"t":1,"I":1.86},{"x":2.375,"t":0.75,"I":2.03},{"x":2.375,"t":0.5,"I":2.15},{"x":2.375,"t":0.25,"I":2.25},{"x":2.375,"t":0,"I":2.32},{"x":2.375,"t":-0.25,"I":2.36},{"x":2.375,"t":-0.5,"I":2.38},{"x":2.375,"t":-0.75,"I":2.35},{"x":2.375,"t":-1,"I":2.3},{"x":2.375,"t":-1.25,"I":2.22},{"x":2.375,"t":-1.5,"I":2.11},{"x":2.375,"t":-1.75,"I":1.95},{"x":2.375,"t":-2,"I":1.76},{"x":2.375,"t":-2.25,"I":1.52},{"x":2.375,"t":-2.5,"I":1.26},{"x":2.375,"t":-2.75,"I":0.99},{"x":2.375,"t":-3,"I":0.72},{"x":2.375,"t":-3.25,"I":0.52},{"x":2.375,"t":-3.5,"I":0.34},{"x":2.375,"t":-3.75,"I":0.23},
      {"x":2.5,"t":3.75,"I":0.18},{"x":2.5,"t":3.5,"I":0.24},{"x":2.5,"t":3.25,"I":0.33},{"x":2.5,"t":3,"I":0.42},{"x":2.5,"t":2.75,"I":0.54},{"x":2.5,"t":2.5,"I":0.66},{"x":2.5,"t":2.25,"I":0.79},{"x":2.5,"t":2,"I":0.92},{"x":2.5,"t":1.75,"I":1.13},{"x":2.5,"t":1.5,"I":1.35},{"x":2.5,"t":1.25,"I":1.58},{"x":2.5,"t":1,"I":1.8},{"x":2.5,"t":0.75,"I":1.97},{"x":2.5,"t":0.5,"I":2.1},{"x":2.5,"t":0.25,"I":2.21},{"x":2.5,"t":0,"I":2.3},{"x":2.5,"t":-0.25,"I":2.35},{"x":2.5,"t":-0.5,"I":2.38},{"x":2.5,"t":-0.75,"I":2.36},{"x":2.5,"t":-1,"I":2.32},{"x":2.5,"t":-1.25,"I":2.25},{"x":2.5,"t":-1.5,"I":2.15},{"x":2.5,"t":-1.75,"I":1.99},{"x":2.5,"t":-2,"I":1.8},{"x":2.5,"t":-2.25,"I":1.56},{"x":2.5,"t":-2.5,"I":1.3},{"x":2.5,"t":-2.75,"I":1.02},{"x":2.5,"t":-3,"I":0.75},{"x":2.5,"t":-3.25,"I":0.54},{"x":2.5,"t":-3.5,"I":0.35},{"x":2.5,"t":-3.75,"I":0.24},
      {"x":2.625,"t":3.75,"I":0.17},{"x":2.625,"t":3.5,"I":0.24},{"x":2.625,"t":3.25,"I":0.32},{"x":2.625,"t":3,"I":0.41},{"x":2.625,"t":2.75,"I":0.53},{"x":2.625,"t":2.5,"I":0.64},{"x":2.625,"t":2.25,"I":0.78},{"x":2.625,"t":2,"I":0.91},{"x":2.625,"t":1.75,"I":1.1},{"x":2.625,"t":1.5,"I":1.3},{"x":2.625,"t":1.25,"I":1.5},{"x":2.625,"t":1,"I":1.69},{"x":2.625,"t":0.75,"I":1.86},{"x":2.625,"t":0.5,"I":1.99},{"x":2.625,"t":0.25,"I":2.1},{"x":2.625,"t":0,"I":2.19},{"x":2.625,"t":-0.25,"I":2.26},{"x":2.625,"t":-0.5,"I":2.3},{"x":2.625,"t":-0.75,"I":2.31},{"x":2.625,"t":-1,"I":2.29},{"x":2.625,"t":-1.25,"I":2.23},{"x":2.625,"t":-1.5,"I":2.14},{"x":2.625,"t":-1.75,"I":1.99},{"x":2.625,"t":-2,"I":1.8},{"x":2.625,"t":-2.25,"I":1.57},{"x":2.625,"t":-2.5,"I":1.31},{"x":2.625,"t":-2.75,"I":1.04},{"x":2.625,"t":-3,"I":0.77},{"x":2.625,"t":-3.25,"I":0.55},{"x":2.625,"t":-3.5,"I":0.36},{"x":2.625,"t":-3.75,"I":0.24},
      {"x":2.75,"t":3.75,"I":0.17},{"x":2.75,"t":3.5,"I":0.23},{"x":2.75,"t":3.25,"I":0.31},{"x":2.75,"t":3,"I":0.4},{"x":2.75,"t":2.75,"I":0.51},{"x":2.75,"t":2.5,"I":0.62},{"x":2.75,"t":2.25,"I":0.76},{"x":2.75,"t":2,"I":0.9},{"x":2.75,"t":1.75,"I":1.07},{"x":2.75,"t":1.5,"I":1.25},{"x":2.75,"t":1.25,"I":1.42},{"x":2.75,"t":1,"I":1.58},{"x":2.75,"t":0.75,"I":1.74},{"x":2.75,"t":0.5,"I":1.88},{"x":2.75,"t":0.25,"I":1.99},{"x":2.75,"t":0,"I":2.08},{"x":2.75,"t":-0.25,"I":2.16},{"x":2.75,"t":-0.5,"I":2.22},{"x":2.75,"t":-0.75,"I":2.25},{"x":2.75,"t":-1,"I":2.25},{"x":2.75,"t":-1.25,"I":2.2},{"x":2.75,"t":-1.5,"I":2.12},{"x":2.75,"t":-1.75,"I":1.98},{"x":2.75,"t":-2,"I":1.8},{"x":2.75,"t":-2.25,"I":1.57},{"x":2.75,"t":-2.5,"I":1.32},{"x":2.75,"t":-2.75,"I":1.05},{"x":2.75,"t":-3,"I":0.78},{"x":2.75,"t":-3.25,"I":0.56},{"x":2.75,"t":-3.5,"I":0.37},{"x":2.75,"t":-3.75,"I":0.25},
      {"x":2.875,"t":3.75,"I":0.16},{"x":2.875,"t":3.5,"I":0.23},{"x":2.875,"t":3.25,"I":0.31},{"x":2.875,"t":3,"I":0.39},{"x":2.875,"t":2.75,"I":0.5},{"x":2.875,"t":2.5,"I":0.61},{"x":2.875,"t":2.25,"I":0.76},{"x":2.875,"t":2,"I":0.91},{"x":2.875,"t":1.75,"I":1.07},{"x":2.875,"t":1.5,"I":1.23},{"x":2.875,"t":1.25,"I":1.36},{"x":2.875,"t":1,"I":1.48},{"x":2.875,"t":0.75,"I":1.6},{"x":2.875,"t":0.5,"I":1.7},{"x":2.875,"t":0.25,"I":1.81},{"x":2.875,"t":0,"I":1.92},{"x":2.875,"t":-0.25,"I":2.01},{"x":2.875,"t":-0.5,"I":2.09},{"x":2.875,"t":-0.75,"I":2.13},{"x":2.875,"t":-1,"I":2.15},{"x":2.875,"t":-1.25,"I":2.13},{"x":2.875,"t":-1.5,"I":2.07},{"x":2.875,"t":-1.75,"I":1.95},{"x":2.875,"t":-2,"I":1.78},{"x":2.875,"t":-2.25,"I":1.56},{"x":2.875,"t":-2.5,"I":1.31},{"x":2.875,"t":-2.75,"I":1.06},{"x":2.875,"t":-3,"I":0.8},{"x":2.875,"t":-3.25,"I":0.58},{"x":2.875,"t":-3.5,"I":0.38},{"x":2.875,"t":-3.75,"I":0.25},
      {"x":3,"t":3.75,"I":0.16},{"x":3,"t":3.5,"I":0.22},{"x":3,"t":3.25,"I":0.3},{"x":3,"t":3,"I":0.38},{"x":3,"t":2.75,"I":0.49},{"x":3,"t":2.5,"I":0.6},{"x":3,"t":2.25,"I":0.76},{"x":3,"t":2,"I":0.92},{"x":3,"t":1.75,"I":1.06},{"x":3,"t":1.5,"I":1.2},{"x":3,"t":1.25,"I":1.29},{"x":3,"t":1,"I":1.38},{"x":3,"t":0.75,"I":1.45},{"x":3,"t":0.5,"I":1.52},{"x":3,"t":0.25,"I":1.63},{"x":3,"t":0,"I":1.75},{"x":3,"t":-0.25,"I":1.85},{"x":3,"t":-0.5,"I":1.95},{"x":3,"t":-0.75,"I":2.01},{"x":3,"t":-1,"I":2.05},{"x":3,"t":-1.25,"I":2.05},{"x":3,"t":-1.5,"I":2.02},{"x":3,"t":-1.75,"I":1.91},{"x":3,"t":-2,"I":1.75},{"x":3,"t":-2.25,"I":1.54},{"x":3,"t":-2.5,"I":1.3},{"x":3,"t":-2.75,"I":1.06},{"x":3,"t":-3,"I":0.82},{"x":3,"t":-3.25,"I":0.59},{"x":3,"t":-3.5,"I":0.38},{"x":3,"t":-3.75,"I":0.25},
      {"x":3.125,"t":3.75,"I":0.16},{"x":3.125,"t":3.5,"I":0.22},{"x":3.125,"t":3.25,"I":0.3},{"x":3.125,"t":3,"I":0.38},{"x":3.125,"t":2.75,"I":0.49},{"x":3.125,"t":2.5,"I":0.6},{"x":3.125,"t":2.25,"I":0.76},{"x":3.125,"t":2,"I":0.91},{"x":3.125,"t":1.75,"I":1.04},{"x":3.125,"t":1.5,"I":1.16},{"x":3.125,"t":1.25,"I":1.25},{"x":3.125,"t":1,"I":1.34},{"x":3.125,"t":0.75,"I":1.41},{"x":3.125,"t":0.5,"I":1.47},{"x":3.125,"t":0.25,"I":1.56},{"x":3.125,"t":0,"I":1.65},{"x":3.125,"t":-0.25,"I":1.74},{"x":3.125,"t":-0.5,"I":1.84},{"x":3.125,"t":-0.75,"I":1.91},{"x":3.125,"t":-1,"I":1.97},{"x":3.125,"t":-1.25,"I":1.99},{"x":3.125,"t":-1.5,"I":1.98},{"x":3.125,"t":-1.75,"I":1.89},{"x":3.125,"t":-2,"I":1.77},{"x":3.125,"t":-2.25,"I":1.57},{"x":3.125,"t":-2.5,"I":1.34},{"x":3.125,"t":-2.75,"I":1.1},{"x":3.125,"t":-3,"I":0.85},{"x":3.125,"t":-3.25,"I":0.62},{"x":3.125,"t":-3.5,"I":0.39},{"x":3.125,"t":-3.75,"I":0.25},
      {"x":3.25,"t":3.75,"I":0.16},{"x":3.25,"t":3.5,"I":0.22},{"x":3.25,"t":3.25,"I":0.3},{"x":3.25,"t":3,"I":0.38},{"x":3.25,"t":2.75,"I":0.49},{"x":3.25,"t":2.5,"I":0.6},{"x":3.25,"t":2.25,"I":0.75},{"x":3.25,"t":2,"I":0.9},{"x":3.25,"t":1.75,"I":1.01},{"x":3.25,"t":1.5,"I":1.12},{"x":3.25,"t":1.25,"I":1.21},{"x":3.25,"t":1,"I":1.3},{"x":3.25,"t":0.75,"I":1.36},{"x":3.25,"t":0.5,"I":1.42},{"x":3.25,"t":0.25,"I":1.48},{"x":3.25,"t":0,"I":1.55},{"x":3.25,"t":-0.25,"I":1.63},{"x":3.25,"t":-0.5,"I":1.72},{"x":3.25,"t":-0.75,"I":1.8},{"x":3.25,"t":-1,"I":1.88},{"x":3.25,"t":-1.25,"I":1.92},{"x":3.25,"t":-1.5,"I":1.93},{"x":3.25,"t":-1.75,"I":1.87},{"x":3.25,"t":-2,"I":1.78},{"x":3.25,"t":-2.25,"I":1.6},{"x":3.25,"t":-2.5,"I":1.38},{"x":3.25,"t":-2.75,"I":1.14},{"x":3.25,"t":-3,"I":0.88},{"x":3.25,"t":-3.25,"I":0.64},{"x":3.25,"t":-3.5,"I":0.4},{"x":3.25,"t":-3.75,"I":0.26},
      {"x":3.375,"t":3.75,"I":0.16},{"x":3.375,"t":3.5,"I":0.22},{"x":3.375,"t":3.25,"I":0.3},{"x":3.375,"t":3,"I":0.38},{"x":3.375,"t":2.75,"I":0.49},{"x":3.375,"t":2.5,"I":0.6},{"x":3.375,"t":2.25,"I":0.75},{"x":3.375,"t":2,"I":0.89},{"x":3.375,"t":1.75,"I":0.99},{"x":3.375,"t":1.5,"I":1.09},{"x":3.375,"t":1.25,"I":1.18},{"x":3.375,"t":1,"I":1.26},{"x":3.375,"t":0.75,"I":1.32},{"x":3.375,"t":0.5,"I":1.38},{"x":3.375,"t":0.25,"I":1.43},{"x":3.375,"t":0,"I":1.49},{"x":3.375,"t":-0.25,"I":1.55},{"x":3.375,"t":-0.5,"I":1.62},{"x":3.375,"t":-0.75,"I":1.69},{"x":3.375,"t":-1,"I":1.77},{"x":3.375,"t":-1.25,"I":1.83},{"x":3.375,"t":-1.5,"I":1.87},{"x":3.375,"t":-1.75,"I":1.82},{"x":3.375,"t":-2,"I":1.74},{"x":3.375,"t":-2.25,"I":1.59},{"x":3.375,"t":-2.5,"I":1.4},{"x":3.375,"t":-2.75,"I":1.17},{"x":3.375,"t":-3,"I":0.92},{"x":3.375,"t":-3.25,"I":0.66},{"x":3.375,"t":-3.5,"I":0.41},{"x":3.375,"t":-3.75,"I":0.26},
      {"x":3.5,"t":3.75,"I":0.17},{"x":3.5,"t":3.5,"I":0.22},{"x":3.5,"t":3.25,"I":0.29},{"x":3.5,"t":3,"I":0.37},{"x":3.5,"t":2.75,"I":0.48},{"x":3.5,"t":2.5,"I":0.6},{"x":3.5,"t":2.25,"I":0.74},{"x":3.5,"t":2,"I":0.87},{"x":3.5,"t":1.75,"I":0.96},{"x":3.5,"t":1.5,"I":1.05},{"x":3.5,"t":1.25,"I":1.14},{"x":3.5,"t":1,"I":1.22},{"x":3.5,"t":0.75,"I":1.28},{"x":3.5,"t":0.5,"I":1.33},{"x":3.5,"t":0.25,"I":1.38},{"x":3.5,"t":0,"I":1.43},{"x":3.5,"t":-0.25,"I":1.47},{"x":3.5,"t":-0.5,"I":1.52},{"x":3.5,"t":-0.75,"I":1.58},{"x":3.5,"t":-1,"I":1.65},{"x":3.5,"t":-1.25,"I":1.73},{"x":3.5,"t":-1.5,"I":1.8},{"x":3.5,"t":-1.75,"I":1.77},{"x":3.5,"t":-2,"I":1.7},{"x":3.5,"t":-2.25,"I":1.58},{"x":3.5,"t":-2.5,"I":1.42},{"x":3.5,"t":-2.75,"I":1.2},{"x":3.5,"t":-3,"I":0.95},{"x":3.5,"t":-3.25,"I":0.68},{"x":3.5,"t":-3.5,"I":0.42},{"x":3.5,"t":-3.75,"I":0.27},
      {"x":3.625,"t":3.75,"I":0.17},{"x":3.625,"t":3.5,"I":0.22},{"x":3.625,"t":3.25,"I":0.29},{"x":3.625,"t":3,"I":0.37},{"x":3.625,"t":2.75,"I":0.48},{"x":3.625,"t":2.5,"I":0.6},{"x":3.625,"t":2.25,"I":0.74},{"x":3.625,"t":2,"I":0.88},{"x":3.625,"t":1.75,"I":0.95},{"x":3.625,"t":1.5,"I":1.03},{"x":3.625,"t":1.25,"I":1.11},{"x":3.625,"t":1,"I":1.19},{"x":3.625,"t":0.75,"I":1.24},{"x":3.625,"t":0.5,"I":1.29},{"x":3.625,"t":0.25,"I":1.33},{"x":3.625,"t":0,"I":1.37},{"x":3.625,"t":-0.25,"I":1.4},{"x":3.625,"t":-0.5,"I":1.44},{"x":3.625,"t":-0.75,"I":1.49},{"x":3.625,"t":-1,"I":1.55},{"x":3.625,"t":-1.25,"I":1.61},{"x":3.625,"t":-1.5,"I":1.65},{"x":3.625,"t":-1.75,"I":1.61},{"x":3.625,"t":-2,"I":1.53},{"x":3.625,"t":-2.25,"I":1.42},{"x":3.625,"t":-2.5,"I":1.29},{"x":3.625,"t":-2.75,"I":1.12},{"x":3.625,"t":-3,"I":0.93},{"x":3.625,"t":-3.25,"I":0.67},{"x":3.625,"t":-3.5,"I":0.41},{"x":3.625,"t":-3.75,"I":0.25},
      {"x":3.75,"t":3.75,"I":0.17},{"x":3.75,"t":3.5,"I":0.22},{"x":3.75,"t":3.25,"I":0.29},{"x":3.75,"t":3,"I":0.36},{"x":3.75,"t":2.75,"I":0.48},{"x":3.75,"t":2.5,"I":0.6},{"x":3.75,"t":2.25,"I":0.74},{"x":3.75,"t":2,"I":0.88},{"x":3.75,"t":1.75,"I":0.94},{"x":3.75,"t":1.5,"I":1.0},{"x":3.75,"t":1.25,"I":1.08},{"x":3.75,"t":1,"I":1.15},{"x":3.75,"t":0.75,"I":1.2},{"x":3.75,"t":0.5,"I":1.25},{"x":3.75,"t":0.25,"I":1.28},{"x":3.75,"t":0,"I":1.3},{"x":3.75,"t":-0.25,"I":1.32},{"x":3.75,"t":-0.5,"I":1.35},{"x":3.75,"t":-0.75,"I":1.4},{"x":3.75,"t":-1,"I":1.45},{"x":3.75,"t":-1.25,"I":1.49},{"x":3.75,"t":-1.5,"I":1.5},{"x":3.75,"t":-1.75,"I":1.44},{"x":3.75,"t":-2,"I":1.35},{"x":3.75,"t":-2.25,"I":1.25},{"x":3.75,"t":-2.5,"I":1.15},{"x":3.75,"t":-2.75,"I":1.03},{"x":3.75,"t":-3,"I":0.9},{"x":3.75,"t":-3.25,"I":0.65},{"x":3.75,"t":-3.5,"I":0.4},{"x":3.75,"t":-3.75,"I":0.24},
      {"x":3.875,"t":3.75,"I":0.17},{"x":3.875,"t":3.5,"I":0.22},{"x":3.875,"t":3.25,"I":0.3},{"x":3.875,"t":3,"I":0.37},{"x":3.875,"t":2.75,"I":0.49},{"x":3.875,"t":2.5,"I":0.61},{"x":3.875,"t":2.25,"I":0.75},{"x":3.875,"t":2,"I":0.88},{"x":3.875,"t":1.75,"I":0.94},{"x":3.875,"t":1.5,"I":1.0},{"x":3.875,"t":1.25,"I":1.07},{"x":3.875,"t":1,"I":1.13},{"x":3.875,"t":0.75,"I":1.17},{"x":3.875,"t":0.5,"I":1.2},{"x":3.875,"t":0.25,"I":1.22},{"x":3.875,"t":0,"I":1.23},{"x":3.875,"t":-0.25,"I":1.24},{"x":3.875,"t":-0.5,"I":1.25},{"x":3.875,"t":-0.75,"I":1.28},{"x":3.875,"t":-1,"I":1.3},{"x":3.875,"t":-1.25,"I":1.32},{"x":3.875,"t":-1.5,"I":1.32},{"x":3.875,"t":-1.75,"I":1.27},{"x":3.875,"t":-2,"I":1.2},{"x":3.875,"t":-2.25,"I":1.13},{"x":3.875,"t":-2.5,"I":1.05},{"x":3.875,"t":-2.75,"I":0.97},{"x":3.875,"t":-3,"I":0.88},{"x":3.875,"t":-3.25,"I":0.64},{"x":3.875,"t":-3.5,"I":0.4},{"x":3.875,"t":-3.75,"I":0.24},
      {"x":4,"t":3.75,"I":0.17},{"x":4,"t":3.5,"I":0.22},{"x":4,"t":3.25,"I":0.3},{"x":4,"t":3,"I":0.38},{"x":4,"t":2.75,"I":0.5},{"x":4,"t":2.5,"I":0.62},{"x":4,"t":2.25,"I":0.75},{"x":4,"t":2,"I":0.88},{"x":4,"t":1.75,"I":0.94},{"x":4,"t":1.5,"I":1.0},{"x":4,"t":1.25,"I":1.05},{"x":4,"t":1,"I":1.1},{"x":4,"t":0.75,"I":1.13},{"x":4,"t":0.5,"I":1.15},{"x":4,"t":0.25,"I":1.15},{"x":4,"t":0,"I":1.15},{"x":4,"t":-0.25,"I":1.15},{"x":4,"t":-0.5,"I":1.15},{"x":4,"t":-0.75,"I":1.15},{"x":4,"t":-1,"I":1.15},{"x":4,"t":-1.25,"I":1.15},{"x":4,"t":-1.5,"I":1.13},{"x":4,"t":-1.75,"I":1.1},{"x":4,"t":-2,"I":1.05},{"x":4,"t":-2.25,"I":1.0},{"x":4,"t":-2.5,"I":0.95},{"x":4,"t":-2.75,"I":0.9},{"x":4,"t":-3,"I":0.85},{"x":4,"t":-3.25,"I":0.63},{"x":4,"t":-3.5,"I":0.4},{"x":4,"t":-3.75,"I":0.24},
      {"x":4.125,"t":3.75,"I":0.17},{"x":4.125,"t":3.5,"I":0.22},{"x":4.125,"t":3.25,"I":0.3},{"x":4.125,"t":3,"I":0.38},{"x":4.125,"t":2.75,"I":0.5},{"x":4.125,"t":2.5,"I":0.62},{"x":4.125,"t":2.25,"I":0.75},{"x":4.125,"t":2,"I":0.88},{"x":4.125,"t":1.75,"I":0.94},{"x":4.125,"t":1.5,"I":0.99},{"x":4.125,"t":1.25,"I":1.04},{"x":4.125,"t":1,"I":1.09},{"x":4.125,"t":0.75,"I":1.11},{"x":4.125,"t":0.5,"I":1.13},{"x":4.125,"t":0.25,"I":1.12},{"x":4.125,"t":0,"I":1.1},{"x":4.125,"t":-0.25,"I":1.09},{"x":4.125,"t":-0.5,"I":1.08},{"x":4.125,"t":-0.75,"I":1.06},{"x":4.125,"t":-1,"I":1.04},{"x":4.125,"t":-1.25,"I":1.02},{"x":4.125,"t":-1.5,"I":0.99},{"x":4.125,"t":-1.75,"I":0.97},{"x":4.125,"t":-2,"I":0.94},{"x":4.125,"t":-2.25,"I":0.92},{"x":4.125,"t":-2.5,"I":0.9},{"x":4.125,"t":-2.75,"I":0.87},{"x":4.125,"t":-3,"I":0.84},{"x":4.125,"t":-3.25,"I":0.62},{"x":4.125,"t":-3.5,"I":0.4},{"x":4.125,"t":-3.75,"I":0.24},
      {"x":4.25,"t":3.75,"I":0.17},{"x":4.25,"t":3.5,"I":0.22},{"x":4.25,"t":3.25,"I":0.3},{"x":4.25,"t":3,"I":0.38},{"x":4.25,"t":2.75,"I":0.5},{"x":4.25,"t":2.5,"I":0.62},{"x":4.25,"t":2.25,"I":0.75},{"x":4.25,"t":2,"I":0.87},{"x":4.25,"t":1.75,"I":0.93},{"x":4.25,"t":1.5,"I":0.98},{"x":4.25,"t":1.25,"I":1.03},{"x":4.25,"t":1,"I":1.08},{"x":4.25,"t":0.75,"I":1.09},{"x":4.25,"t":0.5,"I":1.1},{"x":4.25,"t":0.25,"I":1.08},{"x":4.25,"t":0,"I":1.05},{"x":4.25,"t":-0.25,"I":1.03},{"x":4.25,"t":-0.5,"I":1.0},{"x":4.25,"t":-0.75,"I":0.96},{"x":4.25,"t":-1,"I":0.92},{"x":4.25,"t":-1.25,"I":0.89},{"x":4.25,"t":-1.5,"I":0.85},{"x":4.25,"t":-1.75,"I":0.83},{"x":4.25,"t":-2,"I":0.82},{"x":4.25,"t":-2.25,"I":0.84},{"x":4.25,"t":-2.5,"I":0.85},{"x":4.25,"t":-2.75,"I":0.84},{"x":4.25,"t":-3,"I":0.82},{"x":4.25,"t":-3.25,"I":0.61},{"x":4.25,"t":-3.5,"I":0.4},{"x":4.25,"t":-3.75,"I":0.24},
      {"x":4.375,"t":3.75,"I":0.17},{"x":4.375,"t":3.5,"I":0.22},{"x":4.375,"t":3.25,"I":0.3},{"x":4.375,"t":3,"I":0.38},{"x":4.375,"t":2.75,"I":0.49},{"x":4.375,"t":2.5,"I":0.61},{"x":4.375,"t":2.25,"I":0.74},{"x":4.375,"t":2,"I":0.86},{"x":4.375,"t":1.75,"I":0.93},{"x":4.375,"t":1.5,"I":0.98},{"x":4.375,"t":1.25,"I":1.03},{"x":4.375,"t":1,"I":1.08},{"x":4.375,"t":0.75,"I":1.09},{"x":4.375,"t":0.5,"I":1.09},{"x":4.375,"t":0.25,"I":1.06},{"x":4.375,"t":0,"I":1.03},{"x":4.375,"t":-0.25,"I":0.99},{"x":4.375,"t":-0.5,"I":0.95},{"x":4.375,"t":-0.75,"I":0.91},{"x":4.375,"t":-1,"I":0.86},{"x":4.375,"t":-1.25,"I":0.82},{"x":4.375,"t":-1.5,"I":0.78},{"x":4.375,"t":-1.75,"I":0.76},{"x":4.375,"t":-2,"I":0.75},{"x":4.375,"t":-2.25,"I":0.79},{"x":4.375,"t":-2.5,"I":0.82},{"x":4.375,"t":-2.75,"I":0.82},{"x":4.375,"t":-3,"I":0.81},{"x":4.375,"t":-3.25,"I":0.61},{"x":4.375,"t":-3.5,"I":0.39},{"x":4.375,"t":-3.75,"I":0.23},
      {"x":4.5,"t":3.75,"I":0.17},{"x":4.5,"t":3.5,"I":0.22},{"x":4.5,"t":3.25,"I":0.29},{"x":4.5,"t":3,"I":0.37},{"x":4.5,"t":2.75,"I":0.48},{"x":4.5,"t":2.5,"I":0.6},{"x":4.5,"t":2.25,"I":0.73},{"x":4.5,"t":2,"I":0.85},{"x":4.5,"t":1.75,"I":0.92},{"x":4.5,"t":1.5,"I":0.98},{"x":4.5,"t":1.25,"I":1.03},{"x":4.5,"t":1,"I":1.08},{"x":4.5,"t":0.75,"I":1.09},{"x":4.5,"t":0.5,"I":1.08},{"x":4.5,"t":0.25,"I":1.04},{"x":4.5,"t":0,"I":1.0},{"x":4.5,"t":-0.25,"I":0.95},{"x":4.5,"t":-0.5,"I":0.9},{"x":4.5,"t":-0.75,"I":0.85},{"x":4.5,"t":-1,"I":0.8},{"x":4.5,"t":-1.25,"I":0.75},{"x":4.5,"t":-1.5,"I":0.7},{"x":4.5,"t":-1.75,"I":0.68},{"x":4.5,"t":-2,"I":0.68},{"x":4.5,"t":-2.25,"I":0.73},{"x":4.5,"t":-2.5,"I":0.78},{"x":4.5,"t":-2.75,"I":0.8},{"x":4.5,"t":-3,"I":0.8},{"x":4.5,"t":-3.25,"I":0.6},{"x":4.5,"t":-3.5,"I":0.38},{"x":4.5,"t":-3.75,"I":0.23},
      {"x":4.625,"t":3.75,"I":0.17},{"x":4.625,"t":3.5,"I":0.22},{"x":4.625,"t":3.25,"I":0.29},{"x":4.625,"t":3,"I":0.37},{"x":4.625,"t":2.75,"I":0.49},{"x":4.625,"t":2.5,"I":0.61},{"x":4.625,"t":2.25,"I":0.74},{"x":4.625,"t":2,"I":0.86},{"x":4.625,"t":1.75,"I":0.94},{"x":4.625,"t":1.5,"I":1.02},{"x":4.625,"t":1.25,"I":1.08},{"x":4.625,"t":1,"I":1.14},{"x":4.625,"t":0.75,"I":1.15},{"x":4.625,"t":0.5,"I":1.14},{"x":4.625,"t":0.25,"I":1.09},{"x":4.625,"t":0,"I":1.04},{"x":4.625,"t":-0.25,"I":0.99},{"x":4.625,"t":-0.5,"I":0.93},{"x":4.625,"t":-0.75,"I":0.87},{"x":4.625,"t":-1,"I":0.81},{"x":4.625,"t":-1.25,"I":0.75},{"x":4.625,"t":-1.5,"I":0.69},{"x":4.625,"t":-1.75,"I":0.67},{"x":4.625,"t":-2,"I":0.66},{"x":4.625,"t":-2.25,"I":0.7},{"x":4.625,"t":-2.5,"I":0.74},{"x":4.625,"t":-2.75,"I":0.76},{"x":4.625,"t":-3,"I":0.76},{"x":4.625,"t":-3.25,"I":0.58},{"x":4.625,"t":-3.5,"I":0.37},{"x":4.625,"t":-3.75,"I":0.22},
      {"x":4.75,"t":3.75,"I":0.17},{"x":4.75,"t":3.5,"I":0.22},{"x":4.75,"t":3.25,"I":0.29},{"x":4.75,"t":3,"I":0.37},{"x":4.75,"t":2.75,"I":0.49},{"x":4.75,"t":2.5,"I":0.61},{"x":4.75,"t":2.25,"I":0.74},{"x":4.75,"t":2,"I":0.87},{"x":4.75,"t":1.75,"I":0.96},{"x":4.75,"t":1.5,"I":1.05},{"x":4.75,"t":1.25,"I":1.13},{"x":4.75,"t":1,"I":1.2},{"x":4.75,"t":0.75,"I":1.21},{"x":4.75,"t":0.5,"I":1.2},{"x":4.75,"t":0.25,"I":1.14},{"x":4.75,"t":0,"I":1.08},{"x":4.75,"t":-0.25,"I":1.02},{"x":4.75,"t":-0.5,"I":0.95},{"x":4.75,"t":-0.75,"I":0.89},{"x":4.75,"t":-1,"I":0.82},{"x":4.75,"t":-1.25,"I":0.75},{"x":4.75,"t":-1.5,"I":0.68},{"x":4.75,"t":-1.75,"I":0.65},{"x":4.75,"t":-2,"I":0.64},{"x":4.75,"t":-2.25,"I":0.67},{"x":4.75,"t":-2.5,"I":0.7},{"x":4.75,"t":-2.75,"I":0.72},{"x":4.75,"t":-3,"I":0.72},{"x":4.75,"t":-3.25,"I":0.55},{"x":4.75,"t":-3.5,"I":0.36},{"x":4.75,"t":-3.75,"I":0.22},
      {"x":4.875,"t":3.75,"I":0.17},{"x":4.875,"t":3.5,"I":0.22},{"x":4.875,"t":3.25,"I":0.29},{"x":4.875,"t":3,"I":0.37},{"x":4.875,"t":2.75,"I":0.5},{"x":4.875,"t":2.5,"I":0.62},{"x":4.875,"t":2.25,"I":0.75},{"x":4.875,"t":2,"I":0.89},{"x":4.875,"t":1.75,"I":1.0},{"x":4.875,"t":1.5,"I":1.1},{"x":4.875,"t":1.25,"I":1.2},{"x":4.875,"t":1,"I":1.28},{"x":4.875,"t":0.75,"I":1.29},{"x":4.875,"t":0.5,"I":1.28},{"x":4.875,"t":0.25,"I":1.21},{"x":4.875,"t":0,"I":1.14},{"x":4.875,"t":-0.25,"I":1.06},{"x":4.875,"t":-0.5,"I":0.98},{"x":4.875,"t":-0.75,"I":0.91},{"x":4.875,"t":-1,"I":0.84},{"x":4.875,"t":-1.25,"I":0.75},{"x":4.875,"t":-1.5,"I":0.67},{"x":4.875,"t":-1.75,"I":0.64},{"x":4.875,"t":-2,"I":0.62},{"x":4.875,"t":-2.25,"I":0.65},{"x":4.875,"t":-2.5,"I":0.68},{"x":4.875,"t":-2.75,"I":0.7},{"x":4.875,"t":-3,"I":0.7},{"x":4.875,"t":-3.25,"I":0.54},{"x":4.875,"t":-3.5,"I":0.36},{"x":4.875,"t":-3.75,"I":0.21},
      {"x":5,"t":3.75,"I":0.17},{"x":5,"t":3.5,"I":0.22},{"x":5,"t":3.25,"I":0.29},{"x":5,"t":3,"I":0.37},{"x":5,"t":2.75,"I":0.5},{"x":5,"t":2.5,"I":0.62},{"x":5,"t":2.25,"I":0.76},{"x":5,"t":2,"I":0.9},{"x":5,"t":1.75,"I":1.03},{"x":5,"t":1.5,"I":1.15},{"x":5,"t":1.25,"I":1.26},{"x":5,"t":1,"I":1.35},{"x":5,"t":0.75,"I":1.37},{"x":5,"t":0.5,"I":1.35},{"x":5,"t":0.25,"I":1.28},{"x":5,"t":0,"I":1.2},{"x":5,"t":-0.25,"I":1.1},{"x":5,"t":-0.5,"I":1.0},{"x":5,"t":-0.75,"I":0.93},{"x":5,"t":-1,"I":0.85},{"x":5,"t":-1.25,"I":0.75},{"x":5,"t":-1.5,"I":0.65},{"x":5,"t":-1.75,"I":0.62},{"x":5,"t":-2,"I":0.6},{"x":5,"t":-2.25,"I":0.62},{"x":5,"t":-2.5,"I":0.65},{"x":5,"t":-2.75,"I":0.67},{"x":5,"t":-3,"I":0.68},{"x":5,"t":-3.25,"I":0.53},{"x":5,"t":-3.5,"I":0.35},{"x":5,"t":-3.75,"I":0.21}
    ]
  },
  "encoding": {
    "x": {
      "field": "x",
      "type": "quantitative",
      "scale": {"domain": [0, 5], "nice": false, "zero": false},
      "axis": {
        "title": "Effektív kristályhossz",
        "values": [0, 0.5, 1, 1.5, 2, 2.5, 3, 3.5, 4, 4.5, 5],
        "format": "~g",
        "labelFlush": false,
        "labelFontSize": 16,
        "labelColor": "#111111",
        "labelPadding": 9,
        "ticks": false,
        "domain": false,
        "grid": false,
        "titleFontSize": 18,
        "titleFontWeight": "bold",
        "titleColor": "#000000",
        "titlePadding": 1
      }
    },
    "y": {
      "field": "t",
      "type": "quantitative",
      "scale": {"domain": [-10.52, 11.2], "nice": false, "zero": false},
      "axis": {
        "title": "Idő(ps)",
        "values": [-10, -8, -6, -4, -2, 0, 2, 4, 6, 8, 10],
        "labelFontSize": 16,
        "labelColor": "#111111",
        "labelPadding": 3,
        "ticks": false,
        "domain": false,
        "grid": false,
        "titleFontSize": 18,
        "titleFontWeight": "bold",
        "titleColor": "#000000",
        "titlePadding": -7
      }
    },
    "color": {
      "field": "I",
      "type": "quantitative",
      "scale": {
        "domain": [0, 0.2975, 0.8925, 1.4875, 2.0825, 2.38],
        "range": ["#000080", "#0000ff", "#00ffff", "#ffff00", "#ff0000", "#800000"],
        "interpolate": "rgb",
        "clamp": true
      },
      "legend": {
        "orient": "none",
        "legendX": 744,
        "legendY": 0,
        "direction": "vertical",
        "gradientLength": 366,
        "gradientThickness": 19,
        "gradientStrokeWidth": 0,
        "title": null,
        "values": [0, 0.5, 1, 1.5, 2],
        "format": "~g",
        "labelFontSize": 16,
        "labelColor": "#111111",
        "labelOffset": 2,
        "labelBaseline": "middle"
      }
    }
  },
  "layer": [
    {
      "data": {"name": "tails"},
      "mark": {"type": "rect", "width": 37, "height": 4.7, "clip": true}
    },
    {
      "data": {"name": "band"},
      "mark": {"type": "rect", "width": 19, "height": 4.7, "clip": true}
    }
  ]
}
